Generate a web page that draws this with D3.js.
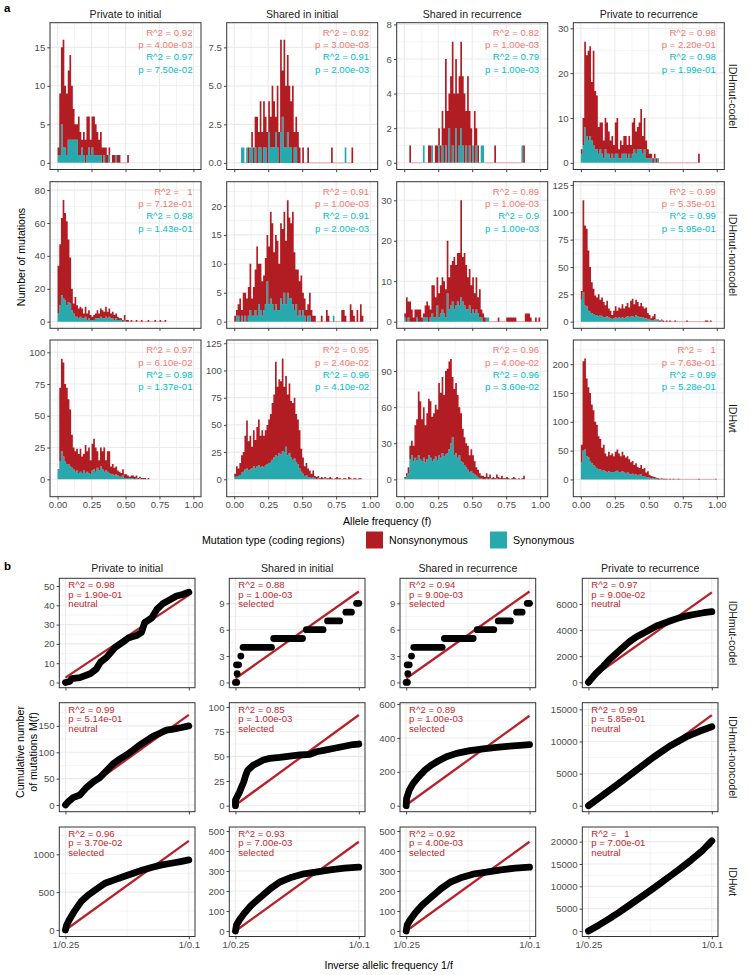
<!DOCTYPE html>
<html><head><meta charset="utf-8">
<script src="https://cdn.jsdelivr.net/npm/d3@7"></script>
<style>
body{margin:0;background:#fff}
svg text{white-space:pre}
</style>
</head><body>
<svg id="chart" width="750" height="975"></svg>
<script>
// ---------------- DATA ----------------
const columns = ["Private to initial","Shared in initial","Shared in recurrence","Private to recurrence"];
const subtypes = ["IDHmut-codel","IDHmut-noncodel","IDHwt"];
const binWidth = 0.0125;
const freqTickValues = [0,0.25,0.5,0.75,1];
const freqTickLabels = ["0.00","0.25","0.50","0.75","1.00"];
const invTickValues = [4,10];
const invTickLabels = ["1/0.25","1/0.1"];

// histogram bin start (allele frequency of first bin)
const histStart = [[0,0.05,0.0375,0],[0,0,0,0],[0,0,0,0]];

// IDHmut-codel
const nonsynCodelPrivInit = [1,8,10,14,8,8,9,11,7,4,2,2,5,3,1,3,3,5,4,2,4,5,4,3,2,3,2,1,2,1,1,0,1,1,0,1,1,0,0,0,0,1];
const synCodelPrivInit = [1,1,5,2,2,1,3,3,3,3,3,3,1,1,2,1,0,1,2,1,2,1,1,1,1,1,0,1,0,0,1,0,0,0,1,0,0,0,0,0,0,0];
const nonsynCodelSharedInit = [0,0,0,0,1,0,1,1,2,3,1,3,2,3,2,2,2,2,4,3,1,4,2,6,3,7,4,5,4,3,5,1,2,2,1,0,1,0,0,1,0,0,0,0,0,0,0,0,0,0,0,0,0,1,0,0,0,0,0,0,0,0,0,0,0,1];
const synCodelSharedInit = [1,1,0,1,0,1,1,0,1,0,1,1,0,1,1,0,2,1,1,1,2,1,0,2,3,1,1,2,1,1,0,1,1,0,0,0,0,0,0,0,0,0,0,0,0,0,0,0,0,0,0,0,0,0,0,0,0,0,0,0,0,1,0,0,0,0];
const nonsynCodelSharedRec = [1,0,0,0,0,0,0,0,0,0,0,1,1,0,0,1,1,1,1,2,2,5,3,2,5,6,4,4,4,4,5,4,4,2,5,2,2,0,3,1,1,0,0,0,0,0,0,0,0,0,1,0,0,0,0,0,0,0,0,0,0,0,0,0,0,0,0,1];
const synCodelSharedRec = [0,0,0,0,0,0,0,0,1,0,0,0,0,1,0,0,0,1,0,1,0,1,0,2,0,1,0,2,0,1,2,1,0,1,0,1,0,1,0,1,0,0,1,1,0,0,0,0,0,0,0,0,0,0,0,0,0,0,0,0,0,0,0,0,0,0,1,0];
const nonsynCodelPrivRec = [1,6,19,18,20,20,13,21,13,12,6,6,7,4,7,7,5,4,4,3,7,8,2,4,2,4,4,3,4,3,7,7,5,5,6,9,4,7,4,2,1,1,1,1,1,0,0,0,0,0,0,0,0,0,0,0,0,0,0,0,0,0,0,0,0,0,0,0,0,2];
const synCodelPrivRec = [2,4,8,6,5,6,5,4,3,3,2,3,2,1,3,2,2,1,2,1,2,2,1,1,2,2,2,1,2,1,2,3,2,3,3,3,2,3,1,1,1,1,0,1,0,1,0,0];

// IDHmut-noncodel
const nonsynNoncodelPrivInit = [29,37,47,60,53,51,38,28,13,6,12,7,6,6,6,3,6,4,5,3,2,3,3,5,3,5,5,4,6,4,5,3,4,3,3,2,1,1,1,3,1,1,0,1,0,0,1,0,0,1,0,0,0,1,0,0,0,1,0,0,1,0,0,1];
const synNoncodelPrivInit = [5,10,16,14,13,10,12,11,7,5,3,3,2,3,2,2,3,1,2,1,1,1,2,2,2,3,2,2,3,2,3,2,2,1,2,1,1,1,0,1];
const nonsynNoncodelSharedInit = [1,1,2,4,1,5,4,4,5,8,3,5,7,12,7,8,6,6,8,8,10,15,14,10,12,12,8,13,13,14,11,16,14,13,16,10,6,8,5,7,3,3,2,2,4,2,1,1,0,0,0,1,0,0,2,1,0,0,0,0,0,0,0,2,2,1,0,0,3,2,1,0,2,0,3,1];
const synNoncodelSharedInit = [0,1,1,0,1,0,1,0,1,2,1,1,2,1,3,2,1,2,3,7,3,4,3,2,3,2,2,4,3,5,3,5,4,4,3,2,3,1,2,1,2,1,0,1,1,0,0,0,0,0,0,0,0,0,0,0,0,0,1];
const nonsynNoncodelSharedRec = [1,6,4,5,3,1,3,2,3,3,1,1,3,4,4,2,7,8,5,7,6,7,8,8,7,13,8,10,10,13,10,12,13,24,11,13,11,8,9,7,8,5,8,4,7,2,2,1,0,0,0,0,0,0,0,1,0,0,0,0,1,1,1,1,1,1,0,0,0,0,0,2,2,2,1,0,0,1,0,1];
const synNoncodelSharedRec = [1,0,1,0,0,0,0,1,0,0,0,1,1,1,0,1,2,1,1,4,1,2,3,2,1,7,3,4,5,3,4,5,4,6,5,4,3,3,4,2,3,2,3,2,1,1,0,0,1,1];
const nonsynNoncodelPrivRec = [8,84,73,71,55,41,28,23,18,16,20,14,17,14,11,14,8,7,4,7,10,7,9,9,12,9,10,12,9,14,16,12,14,13,10,13,10,9,10,6,4,2,4,5,1,1,1,1,1,0,1,0,1,0,0,1,0,0,0,0,0,0,1,0,0,0,0,0,0,0,0,0,0,1,1,0,1];
const synNoncodelPrivRec = [20,27,15,14,10,9,8,7,6,6,5,6,5,4,4,5,4,3,2,3,4,3,4,3,4,3,4,5,4,5,5,4,6,5,4,4,4,3,3,2,2,1,1,2,1,1,0,1,0];

// IDHwt
const nonsynWtPrivInit = [1,58,73,74,61,60,51,45,26,17,16,17,15,18,13,13,22,16,20,11,21,24,19,13,8,15,14,19,8,16,17,6,8,6,6,4,4,3,5,3,3,2,1,2,2,2,2,1,1,1,1,1,0,1];
const synWtPrivInit = [7,14,22,18,14,12,12,10,9,8,6,7,5,6,5,7,5,6,5,4,7,8,6,9,7,10,8,6,7,6,5,4,4,3,4,3,2,2,3,1,1,1,1,1,1,0,1,0,1,0];
const nonsynWtSharedInit = [3,9,7,11,16,18,31,44,27,31,20,33,26,36,42,29,33,29,32,36,40,44,52,58,86,64,68,67,85,60,65,56,64,52,52,56,44,41,35,21,15,9,11,8,6,4,6,2,2,2,1,2,1,1,1,1,2,1,0,1,2,1,1,0,1,1,0,2,1,0,1,1,0,1,1];
const synWtSharedInit = [2,3,3,4,6,7,9,10,8,9,10,12,10,12,13,11,12,11,13,14,15,16,18,20,22,21,24,23,26,25,30,22,24,20,18,19,16,14,10,7,5,3,4,2,2,1,2,1,0,1,0,0,0,1];
const nonsynWtSharedRec = [1,2,5,11,12,13,27,34,53,48,35,42,31,38,47,47,37,38,43,42,60,54,63,51,69,70,73,70,50,55,58,52,40,40,28,23,20,20,14,18,15,11,7,6,4,2,3,2,4,2,3,1,2,1,3,2,1,3,1,1,2,1,0,1,2,1,0,1,0,1,3];
const synWtSharedRec = [1,3,5,17,20,15,18,16,20,17,15,18,14,17,20,18,15,17,19,16,20,18,22,19,21,22,25,30,35,20,22,18,20,15,14,12,10,8,6,7,5,4,3,2,1,1,0,0,1,0,1,0,0,0,1];
const nonsynWtPrivRec = [30,155,158,135,122,118,102,95,78,75,57,53,40,44,31,28,34,29,33,27,34,37,32,28,34,30,27,28,25,21,22,17,19,15,12,16,12,14,8,10,5,4,3,3,2,2,1,1,1,1,1,0,1,0,1,0,0,1,0,0,0,0,0,0,0,0,0,0,0,1,0,0,0,0,0,0,0,0,0,1];
const synWtPrivRec = [30,50,52,40,38,32,28,25,22,20,18,17,15,16,14,12,14,13,12,13,14,15,13,12,14,12,11,12,10,9,10,8,9,7,8,9,6,6,4,4,3,2,2,1,1,0,0,1];

const histYTickLabels = [
 [["0","5","10","15"],["0.0","2.5","5.0","7.5"],["0","2","4","6","8"],["0","10","20","30"]],
 [["0","20","40","60","80"],["0","5","10","15","20"],["0","10","20","30"],["0","25","50","75","100","125"]],
 [["0","25","50","75","100"],["0","25","50","75","100","125"],["0","30","60","90"],["0","50","100","150","200"]]
];
const histYDomain = [
 [[-0.87,18.2],[-0.43,9.1],[-0.39,8.1],[-1.49,31.25]],
 [[-4.05,85.1],[-1.15,24.2],[-1.65,34.6],[-6.1,128]],
 [[-13.7,109.7],[-16,128],[-14.4,115.8],[-30,242]]
];
const histR2Nonsyn = [["0.92","0.92","0.82","0.98"],["  1","0.91","0.89","0.99"],["0.97","0.95","0.96","  1"]];
const histPNonsyn = [["4.00e-03","3.00e-03","1.00e-03","2.20e-01"],["7.12e-01","1.00e-03","1.00e-03","5.35e-01"],["6.10e-02","2.40e-02","4.00e-02","7.63e-01"]];
const histR2Syn = [["0.97","0.91","0.79","0.98"],["0.98","0.91","0.9","0.99"],["0.98","0.96","0.96","0.99"]];
const histPSyn = [["7.50e-02","2.00e-03","1.00e-03","1.99e-01"],["1.43e-01","2.00e-03","1.00e-03","5.95e-01"],["1.37e-01","4.10e-02","3.60e-02","5.28e-01"]];

// Cumulative distributions: runs of [1/f, M(f)]
const cumCodelPrivInit = [[[4,0],[4.2,0.5],[4.3,2],[4.7,2.5],[5.2,4.5],[5.5,7],[5.7,10.5],[6,13],[6.4,18],[6.8,21],[7.05,23],[7.45,24.3],[7.7,26],[7.85,31],[8.2,33.5],[8.45,38],[8.75,41],[9.1,43],[9.4,44.8],[9.7,45.6],[10,46.8]]];
const cumCodelSharedInit = [[[4,0],[4.06,0]],[[4.08,1]],[[4.05,2],[4.15,2]],[[4.26,3]],[[4.37,4],[5.75,4]],[[5.86,5],[7.26,5]],[[7.45,6],[8.26,6]],[[8.48,7],[9.07,7]],[[9.37,8],[9.64,8]],[[9.89,9],[10,9]]];
const cumCodelSharedRec = [[[4,0],[4.06,0]],[[4.08,1]],[[4.05,2],[4.15,2]],[[4.26,3]],[[4.37,4],[5.75,4]],[[5.86,5],[7.26,5]],[[7.45,6],[8.26,6]],[[8.48,7],[9.07,7]],[[9.37,8],[9.64,8]],[[9.89,9],[10,9]]];
const cumCodelPrivRec = [[[4,0],[4.35,650],[4.71,1200],[5,1700],[5.36,2220],[5.7,2700],[6,3115],[6.3,3450],[6.66,3750],[7,4050],[7.31,4315],[7.65,4520],[7.96,4700],[8.3,4880],[8.6,5030],[8.9,5130],[9.25,5235],[9.6,5330],[10,5410]]];
const cumNoncodelPrivInit = [[[4,0],[4.13,6],[4.37,14],[4.7,19],[5.02,33],[5.35,44],[5.67,52],[6,65],[6.32,78],[6.64,87],[6.97,95],[7.29,104],[7.62,114],[7.94,122],[8.26,130],[8.59,136],[8.91,142],[9.24,144],[9.65,147],[10,150]]];
const cumNoncodelSharedInit = [[[4,0],[4,5.7],[4.08,9],[4.18,13],[4.29,18.6],[4.4,24],[4.5,31],[4.6,36],[4.86,41],[5.1,43.6],[5.35,46.3],[5.67,48],[6.16,49],[6.64,50.3],[7.13,51.4],[7.62,52],[7.94,54.7],[8.35,56.4],[8.75,58],[9.24,60],[9.72,62],[10,62.5]]];
const cumNoncodelSharedRec = [[[4,0],[4.02,43],[4.15,92],[4.34,132],[4.58,167],[4.91,210],[5.23,240],[5.56,264],[5.96,289],[6.45,309],[7.1,325],[7.75,336],[8.39,344],[9.04,352],[9.69,358],[10,360]]];
const cumNoncodelPrivRec = [[[4,0],[4.71,1660],[5.52,3580],[6.34,5550],[7.15,7520],[7.96,9290],[8.77,10740],[9.42,11620],[10,12300]]];
const cumWtPrivInit = [[[4,0],[4.05,60],[4.18,132],[4.42,243],[4.76,375],[5.11,463],[5.45,529],[5.92,617],[6.38,662],[6.84,706],[7.3,750],[7.76,794],[8.23,829],[8.69,860],[9.15,882],[9.6,904],[10,926]]];
const cumWtSharedInit = [[[4,0],[4.05,30],[4.19,55],[4.42,88],[4.77,129],[5.23,170],[5.7,212],[6.16,245],[6.74,269],[7.33,286],[7.9,294],[8.6,306],[9.3,314],[10,319]]];
const cumWtSharedRec = [[[4,0],[4.05,30],[4.19,55],[4.42,88],[4.77,129],[5.23,170],[5.7,212],[6.16,245],[6.74,269],[7.33,286],[7.9,294],[8.6,306],[9.3,314],[10,319]]];
const cumWtPrivRec = [[[4,0],[4.5,1300],[5,2700],[5.5,4200],[6,5800],[6.5,7400],[7,9000],[7.5,10700],[8,12400],[8.5,14100],[9,15900],[9.5,17800],[10,20200]]];

const fitAt4 = [[2.5,0.45,0.45,180],[3,0.7,4,0],[0,0,0,0]];
const fitAt10 = [[45.3,10.35,10.35,6890],[171,91.9,531,14110],[1178,446,446,19250]];

const cumYTickLabels = [
 [["0","10","20","30","40","50"],["0","3","6","9"],["0","3","6","9"],["0","2000","4000","6000"]],
 [["0","50","100","150"],["0","25","50","75","100"],["0","200","400","600"],["0","5000","10000","15000"]],
 [["0","500","1000"],["0","100","200","300","400","500"],["0","100","200","300","400","500"],["0","5000","10000","15000","20000"]]
];
const cumYDomain = [
 [[-2.7,54],[-0.6,11.85],[-0.6,11.85],[-414,7969]],
 [[-12.7,194],[-6.1,104.4],[-35.4,608],[-934,16035]],
 [[-86,1361],[-27.5,520],[-27.5,520],[-1231,23284]]
];
const cumR2 = [["0.98","0.88","0.94","0.97"],["0.99","0.85","0.89","0.99"],["0.96","0.93","0.92","  1"]];
const cumP = [["1.90e-01","1.00e-03","9.00e-03","9.00e-02"],["5.14e-01","1.00e-03","1.00e-03","5.85e-01"],["3.70e-02","7.00e-03","4.00e-03","7.00e-01"]];
const cumCall = [["neutral","selected","selected","neutral"],["neutral","selected","selected","neutral"],["selected","selected","selected","neutral"]];

const legendLabels = ["Nonsynonymous","Synonymous"];

// --------------- TABLES ---------------
const nonsynData = [
 [nonsynCodelPrivInit,nonsynCodelSharedInit,nonsynCodelSharedRec,nonsynCodelPrivRec],
 [nonsynNoncodelPrivInit,nonsynNoncodelSharedInit,nonsynNoncodelSharedRec,nonsynNoncodelPrivRec],
 [nonsynWtPrivInit,nonsynWtSharedInit,nonsynWtSharedRec,nonsynWtPrivRec]];
const synData = [
 [synCodelPrivInit,synCodelSharedInit,synCodelSharedRec,synCodelPrivRec],
 [synNoncodelPrivInit,synNoncodelSharedInit,synNoncodelSharedRec,synNoncodelPrivRec],
 [synWtPrivInit,synWtSharedInit,synWtSharedRec,synWtPrivRec]];
const cumData = [
 [cumCodelPrivInit,cumCodelSharedInit,cumCodelSharedRec,cumCodelPrivRec],
 [cumNoncodelPrivInit,cumNoncodelSharedInit,cumNoncodelSharedRec,cumNoncodelPrivRec],
 [cumWtPrivInit,cumWtSharedInit,cumWtSharedRec,cumWtPrivRec]];

// --------------- STYLE / LAYOUT ---------------
const FONT = '"Liberation Sans", Arial, Helvetica, sans-serif';
const RED = "#B21D24", TEAL = "#27A9AE";
const ZERO_EDGE = "#E9A9A9";
const TXT_NON = "#F8766D", TXT_SYN = "#00BFC4";
const FIT_RED = "#B8202A", ANNO_RED = "#C0282D";
const GRID = "#EBEBEB", BORDER = "#333333";

const aCols = [50, 226.7, 396.7, 573.3], aW = 151;
const aTop = [22.7, 181.7, 340], aBot = [169.5, 328.3, 496.7];
const bCols = [59.3, 229.3, 400, 582.3], bW = 135.7;
const bTop = [578.3, 702.7, 827], bBot = [687.7, 811.7, 936.5];

const svg = d3.select("#chart").attr("font-family", FONT);
svg.append("rect").attr("width",750).attr("height",975).attr("fill","#fff");
const defs = svg.append("defs");
let clipId = 0;

function minorOf(major, dom){
  const step = major[1]-major[0];
  const out = [];
  for (let i=-1;i<major.length;i++){
    const v = major[0] + (i+0.5)*step;
    if (v>dom[0] && v<dom[1]) out.push(v);
  }
  return out;
}

function frame(g, w, h, x, y, xMaj, xMin, yMaj, yMin){
  g.append("rect").attr("width",w).attr("height",h).attr("fill","#fff");
  const gr = g.append("g");
  gr.selectAll(null).data(yMin).join("line").attr("x1",0).attr("x2",w)
    .attr("y1",d=>y(d)).attr("y2",d=>y(d)).attr("stroke",GRID).attr("stroke-width",0.55);
  gr.selectAll(null).data(xMin).join("line").attr("y1",0).attr("y2",h)
    .attr("x1",d=>x(d)).attr("x2",d=>x(d)).attr("stroke",GRID).attr("stroke-width",0.55);
  gr.selectAll(null).data(yMaj).join("line").attr("x1",0).attr("x2",w)
    .attr("y1",d=>y(d)).attr("y2",d=>y(d)).attr("stroke",GRID).attr("stroke-width",1.1);
  gr.selectAll(null).data(xMaj).join("line").attr("y1",0).attr("y2",h)
    .attr("x1",d=>x(d)).attr("x2",d=>x(d)).attr("stroke",GRID).attr("stroke-width",1.1);
}

function styleAxis(ax){
  ax.attr("font-family",FONT).attr("font-size",9.6);
  ax.select(".domain").remove();
  ax.selectAll(".tick line").attr("stroke",BORDER).attr("stroke-width",0.9);
  ax.selectAll(".tick text").attr("fill","#4D4D4D");
}

function clipFor(g, w, h){
  const id = "clip"+(clipId++);
  defs.append("clipPath").attr("id",id).append("rect").attr("width",w).attr("height",h);
  return id;
}

// --------------- SECTION a ---------------
for (let r=0;r<3;r++){
  for (let c=0;c<4;c++){
    const w = aW, h = aBot[r]-aTop[r];
    const g = svg.append("g").attr("transform",`translate(${aCols[c]},${aTop[r]})`);
    const x = d3.scaleLinear().domain([-0.0555,1.0555]).range([0,w]);
    const dom = histYDomain[r][c];
    const y = d3.scaleLinear().domain(dom).range([h,0]);
    const yTicks = histYTickLabels[r][c].map(Number);
    frame(g,w,h,x,y,freqTickValues,[0.125,0.375,0.625,0.875],yTicks,minorOf(yTicks,dom));

    const non = nonsynData[r][c], syn = synData[r][c];
    const n = Math.max(non.length, syn.length);
    const start = histStart[r][c];
    const bins = d3.range(n).map(i => ({f0:start+i*binWidth, f1:start+(i+1)*binWidth, s:syn[i]||0, ns:non[i]||0}));
    const id = clipFor(g,w,h);
    const bars = g.append("g").attr("clip-path",`url(#${id})`);
    // empty bins: thin pale outline at zero
    bars.selectAll(null).data(bins.filter(d=>d.s+d.ns===0)).join("line")
      .attr("x1",d=>x(d.f0)-0.3).attr("x2",d=>x(d.f1)+0.3).attr("y1",y(0)).attr("y2",y(0))
      .attr("stroke",ZERO_EDGE).attr("stroke-width",0.9);
    // stacked bars, one path per series so adjacent bins do not show seams
    const synPath = bins.filter(d=>d.s>0).map(d=>`M${x(d.f0)},${y(0)}H${x(d.f1)}V${y(d.s)}H${x(d.f0)}Z`).join("");
    const nonPath = bins.filter(d=>d.ns>0).map(d=>`M${x(d.f0)},${y(d.s)}H${x(d.f1)}V${y(d.s+d.ns)}H${x(d.f0)}Z`).join("");
    bars.append("path").attr("d",synPath).attr("fill",TEAL);
    bars.append("path").attr("d",nonPath).attr("fill",RED);

    g.append("rect").attr("width",w).attr("height",h).attr("fill","none").attr("stroke",BORDER).attr("stroke-width",1);

    const labs = histYTickLabels[r][c];
    const ay = g.append("g").call(d3.axisLeft(y).tickValues(yTicks).tickFormat((d,i)=>labs[i]).tickSize(2.75).tickPadding(2));
    styleAxis(ay);
    const ax = g.append("g").attr("transform",`translate(0,${h})`)
      .call(d3.axisBottom(x).tickValues(freqTickValues).tickFormat((d,i)=> r===2 ? freqTickLabels[i] : "").tickSize(2.75).tickPadding(2.2));
    styleAxis(ax);

    const lines = [["R^2 = "+histR2Nonsyn[r][c],TXT_NON],["p = "+histPNonsyn[r][c],TXT_NON],["R^2 = "+histR2Syn[r][c],TXT_SYN],["p = "+histPSyn[r][c],TXT_SYN]];
    g.selectAll(null).data(lines).join("text")
      .attr("x",w-8.5).attr("y",(d,i)=>10+i*12.2).attr("dy","0.35em")
      .attr("text-anchor","end").attr("font-size",9.6).attr("fill",d=>d[1]).text(d=>d[0]);
  }
}
// column titles a
svg.selectAll(null).data(columns).join("text")
  .attr("x",(d,i)=>aCols[i]+aW/2).attr("y",14).attr("dy","0.35em").attr("text-anchor","middle")
  .attr("font-size",10.6).attr("fill","#1A1A1A").text(d=>d);
// row strips a
subtypes.forEach((s,r)=>{
  svg.append("text").attr("transform",`translate(733,${(aTop[r]+aBot[r])/2}) rotate(90)`)
    .attr("text-anchor","middle").attr("dy","0.35em").attr("font-size",10.6).attr("fill","#1A1A1A").text(s);
});
svg.append("text").attr("transform",`translate(21,${257}) rotate(-90)`).attr("text-anchor","middle").attr("dy","0.35em")
  .attr("font-size",10.6).attr("fill","#000").text("Number of mutations");
svg.append("text").attr("x",(aCols[0]+aCols[3]+aW)/2).attr("y",521).attr("dy","0.35em").attr("text-anchor","middle")
  .attr("font-size",10.6).attr("fill","#000").text("Allele frequency (f)");

// legend
const lg = svg.append("g");
lg.append("text").attr("x",202).attr("y",540).attr("dy","0.35em").attr("font-size",10.6).attr("fill","#000").text("Mutation type (coding regions)");
const legX = [366, 490];
const legCol = [RED, TEAL];
legendLabels.forEach((t,i)=>{
  lg.append("rect").attr("x",legX[i]).attr("y",531.5).attr("width",17).attr("height",17).attr("fill",legCol[i]);
  lg.append("text").attr("x",legX[i]+23).attr("y",540).attr("dy","0.35em").attr("font-size",10.6).attr("fill","#000").text(t);
});

// panel tags
svg.append("text").attr("x",4).attr("y",8).attr("dy","0.35em").attr("font-size",11.5).attr("font-weight","bold").text("a");
svg.append("text").attr("x",4).attr("y",566).attr("dy","0.35em").attr("font-size",11.5).attr("font-weight","bold").text("b");

// --------------- SECTION b ---------------
for (let r=0;r<3;r++){
  for (let c=0;c<4;c++){
    const w = bW, h = bBot[r]-bTop[r];
    const g = svg.append("g").attr("transform",`translate(${bCols[c]},${bTop[r]})`);
    const x = d3.scaleLinear().domain([3.7,10.3]).range([0,w]);
    const dom = cumYDomain[r][c];
    const y = d3.scaleLinear().domain(dom).range([h,0]);
    const yTicks = cumYTickLabels[r][c].map(Number);
    frame(g,w,h,x,y,invTickValues,[7],yTicks,minorOf(yTicks,dom));
    const id = clipFor(g,w,h);
    const pg = g.append("g").attr("clip-path",`url(#${id})`);
    pg.append("line").attr("x1",x(4)).attr("x2",x(10)).attr("y1",y(fitAt4[r][c])).attr("y2",y(fitAt10[r][c]))
      .attr("stroke",FIT_RED).attr("stroke-width",2.3);
    const line = d3.line().x(d=>x(d[0])).y(d=>y(d[1]));
    cumData[r][c].forEach(run=>{
      if (run.length===1){
        pg.append("circle").attr("cx",x(run[0][0])).attr("cy",y(run[0][1])).attr("r",3.4).attr("fill","#000");
      } else {
        pg.append("path").attr("d",line(run)).attr("fill","none").attr("stroke","#000")
          .attr("stroke-width",6.8).attr("stroke-linecap","round").attr("stroke-linejoin","round");
      }
    });
    g.append("rect").attr("width",w).attr("height",h).attr("fill","none").attr("stroke",BORDER).attr("stroke-width",1);
    const labs = cumYTickLabels[r][c];
    const ay = g.append("g").call(d3.axisLeft(y).tickValues(yTicks).tickFormat((d,i)=>labs[i]).tickSize(2.75).tickPadding(2));
    styleAxis(ay);
    const ax = g.append("g").attr("transform",`translate(0,${h})`)
      .call(d3.axisBottom(x).tickValues(invTickValues).tickFormat((d,i)=> r===2 ? invTickLabels[i] : "").tickSize(2.75).tickPadding(2.2));
    styleAxis(ax);
    const lines = ["R^2 = "+cumR2[r][c], "p = "+cumP[r][c], cumCall[r][c]];
    g.selectAll(null).data(lines).join("text")
      .attr("x",9).attr("y",(d,i)=>6.7+i*9.4).attr("dy","0.35em")
      .attr("font-size",9.6).attr("fill",ANNO_RED).text(d=>d);
  }
}
svg.selectAll(null).data(columns).join("text")
  .attr("x",(d,i)=>bCols[i]+bW/2).attr("y",568).attr("dy","0.35em").attr("text-anchor","middle")
  .attr("font-size",10.6).attr("fill","#1A1A1A").text(d=>d);
subtypes.forEach((s,r)=>{
  svg.append("text").attr("transform",`translate(733,${(bTop[r]+bBot[r])/2}) rotate(90)`)
    .attr("text-anchor","middle").attr("dy","0.35em").attr("font-size",10.6).attr("fill","#1A1A1A").text(s);
});
const yt = svg.append("text").attr("transform",`translate(27,752) rotate(-90)`).attr("text-anchor","middle")
  .attr("font-size",10.6).attr("fill","#000");
yt.append("tspan").attr("x",0).attr("dy","-0.25em").text("Cumulative number");
yt.append("tspan").attr("x",0).attr("dy","1.2em").text("of mutations M(f)");
svg.append("text").attr("x",(bCols[0]+bCols[3]+bW)/2).attr("y",965).attr("dy","0.35em").attr("text-anchor","middle")
  .attr("font-size",10.6).attr("fill","#000").text("Inverse allelic frequency 1/f");
</script>
</body></html>
